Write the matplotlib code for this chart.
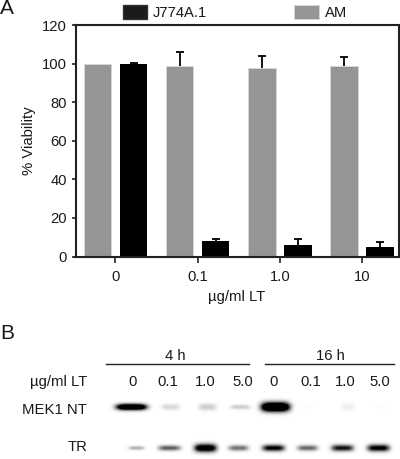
import numpy as np
import matplotlib
matplotlib.use("Agg")
import matplotlib.pyplot as plt

plt.rcParams['font.family'] = ['Liberation Sans', 'DejaVu Sans']

W, H = 400, 459

# ---- data ----
doses = ["0", "0.1", "1.0", "10"]
am_values = [100, 99, 97.5, 99]
am_errors = [0, 7.2, 6.5, 4.3]
j774_values = [99.7, 8, 6, 4.8]
j774_errors = [0.6, 1.3, 3, 2.7]

blot_doses = ["0", "0.1", "1.0", "5.0", "0", "0.1", "1.0", "5.0"]
blot_label_x = [133, 168, 205, 243, 274, 311, 345, 380]

mek_x = [131, 170, 207, 240, 275, 307, 347, 380]
mek_w = [15, 9, 9, 10, 14, 6, 7, 6]
mek_h = [3, 3, 3.5, 2.4, 4.5, 2, 4, 2]
mek_i = [1.7, 0.16, 0.2, 0.2, 1.9, 0.015, 0.07, 0.02]

tr_x = [136, 169, 205, 238, 273, 307, 342, 378]
tr_w = [8, 11, 11, 10, 11, 10, 11, 11]
tr_h = [2, 2.6, 4, 2.8, 3.2, 2.8, 3.2, 3.4]
tr_i = [0.3, 0.65, 1.3, 0.55, 1.05, 0.6, 0.95, 1.1]

fig = plt.figure(figsize=(W/100, H/100), dpi=100, facecolor='white')


def axrect(l, t, r, b):
    return [l/W, 1-b/H, (r-l)/W, (b-t)/H]


ax = fig.add_axes(axrect(75.5, 25, 399, 256.5))
x = np.arange(len(doses))
off, bw = 0.22, 0.335
GRAY = '#959595'
AXC = '#222222'
am = ax.bar(x-off, am_values, bw, color=GRAY, edgecolor='#d8d8d8', linewidth=0.6, zorder=2)
j7 = ax.bar(x+off, j774_values, bw, color='black', zorder=2)

for xs, vals, errs in [(x-off, am_values, am_errors), (x+off, j774_values, j774_errors)]:
    vals, errs = np.array(vals), np.array(errs)
    keep = errs > 0
    eb = ax.errorbar(xs[keep], vals[keep], yerr=[np.zeros(keep.sum()), errs[keep]],
                     fmt='none', ecolor='black', elinewidth=1.3, capsize=3,
                     capthick=1.3, zorder=1.5)
    eb.lines[1][0].set_visible(False)

ax.set_xlim(-0.486, 3.45)
ax.set_ylim(0, 120)
ax.set_xticks(x, doses)
ax.set_yticks(range(0, 121, 20))
ax.tick_params(axis='y', length=3.2, width=1.2, color=AXC, labelsize=10.6,
               labelcolor='#1a1a1a', pad=3)
ax.tick_params(axis='x', length=4, width=1.2, color=AXC, labelsize=10.6,
               labelcolor='#1a1a1a', pad=5.5)
for s in ax.spines.values():
    s.set_linewidth(1.5)
    s.set_color(AXC)
ax.set_ylabel('% Viability', fontsize=10.7, color='#1a1a1a')
ax.yaxis.set_label_coords((36-75.5)/323.5, 0.5)

leg = fig.legend([j7[0], am[0]], ['J774A.1', 'AM'], ncol=2, frameon=False,
                 loc='upper left', bbox_to_anchor=(123/W, 1-5/H), fontsize=10.6,
                 handlelength=1.65, handleheight=1.1, columnspacing=5.9,
                 handletextpad=0.4, borderpad=0, borderaxespad=0, labelcolor='#1a1a1a')
leg.get_patches()[0].set_edgecolor('#333333')
leg.get_patches()[0].set_facecolor('#1a1a1a')

# ---- pixel overlay for panel B ----
ov = fig.add_axes([0, 0, 1, 1], facecolor='none')
yy, xx = np.mgrid[392:459, 0:W]
blot = np.zeros(xx.shape, float)
for (row_y, xs, ws, hs, ins) in [(406.5, mek_x, mek_w, mek_h, mek_i),
                                 (447.5, tr_x, tr_w, tr_h, tr_i)]:
    for cx, w, h, i in zip(xs, ws, hs, ins):
        ex = np.abs((xx-cx)/w)**4
        ey = ((yy-row_y)/h)**2
        blot += i*np.exp(-ex-ey)
blot = np.clip(blot, 0, 1)
ov.imshow(1-blot, cmap='gray', vmin=0, vmax=1, extent=(0, W, 459, 392),
          aspect='auto', interpolation='bilinear', zorder=1)
ov.set_xlim(0, W)
ov.set_ylim(H, 0)
ov.axis('off')

TXT = dict(color='#1a1a1a', fontsize=10.7, va='center')
ov.plot([106, 249], [363.7, 363.7], color='#222222', lw=1.0)
ov.plot([265, 394], [363.7, 363.7], color='#222222', lw=1.0)
ov.text(175, 355.5, '4 h', ha='center', **TXT)
ov.text(330, 355.5, '16 h', ha='center', **TXT)
for lx, d in zip(blot_label_x, blot_doses):
    ov.text(lx, 382, d, ha='center', **TXT)
ov.text(87, 382, 'µg/ml LT', ha='right', **TXT)
ov.text(87, 409.5, 'MEK1 NT', ha='right', **TXT)
ov.text(87, 447, 'TR', ha='right', **TXT)
ov.text(237, 297, 'µg/ml LT', ha='center', **TXT)
ov.text(0, 8.5, 'A', ha='left', color='#1a1a1a', fontsize=15, va='center')
ov.text(0, 333.5, 'B', ha='left', color='#1a1a1a', fontsize=15, va='center')

fig.savefig('out.png', dpi=100, facecolor='white')
